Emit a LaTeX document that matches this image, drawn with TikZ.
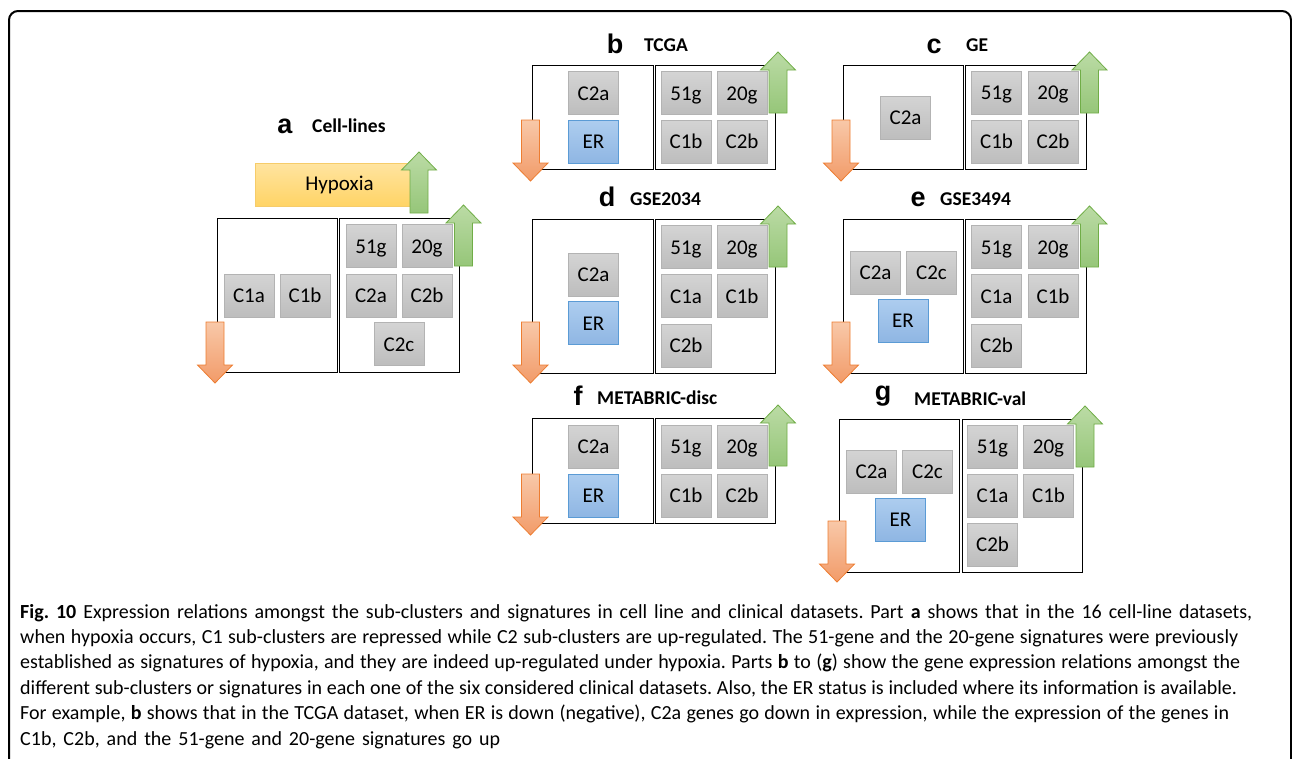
\documentclass[tikz,border=0pt]{standalone}
\usepackage{fontspec}
\setmainfont{Carlito}
\newfontfamily\arialfont{Liberation Sans}
\newfontfamily\capfont{Carlito}
\frenchspacing
\definecolor{gtop}{HTML}{D4D4D4}
\definecolor{gbot}{HTML}{BDBDBD}
\definecolor{gline}{HTML}{B3B3B3}
\definecolor{btop}{HTML}{ADCDEF}
\definecolor{bbot}{HTML}{8FB6E3}
\definecolor{bline}{HTML}{5B9BD5}
\definecolor{grtop}{HTML}{BBDBA5}
\definecolor{grbot}{HTML}{96C679}
\definecolor{grline}{HTML}{70AD47}
\definecolor{ortop}{HTML}{F8C8A8}
\definecolor{orbot}{HTML}{F29B69}
\definecolor{orline}{HTML}{ED7D31}
\definecolor{hytop}{HTML}{FFE4A0}
\definecolor{hybot}{HTML}{FFD466}
\definecolor{hyline}{HTML}{F6CC6A}
\tikzset{
  gbox/.style={draw=gline, line width=0.8pt, top color=gtop, bottom color=gbot,
    minimum width=50pt, minimum height=43pt, inner sep=0pt,
    font=\fontsize{21}{24}\selectfont, text height=14pt, text depth=0pt},
  erbox/.style={gbox, draw=bline, top color=btop, bottom color=bbot},
  panel/.style={draw=black, line width=1pt},
  grarrow/.style={draw=grline, line width=0.8pt, top color=grtop, bottom color=grbot},
  orarrow/.style={draw=orline, line width=0.8pt, top color=ortop, bottom color=orbot},
  letterlbl/.style={font=\arialfont\bfseries\fontsize{27}{30}\selectfont, anchor=base, inner sep=0pt},
  titlelbl/.style={font=\bfseries\fontsize{19.5}{22}\selectfont, anchor=base west, inner sep=0pt},
  capline/.style={anchor=base west, inner sep=0pt, font=\capfont\fontsize{20}{24}\selectfont},
}
\newcommand\greenuparrow[2]{%
  \begin{scope}[shift={(#1,#2)}]
    \path[grarrow] (-17.5,18) -- (0,0) -- (17.5,18) -- (9,18) -- (9,61) -- (-9,61) -- (-9,18) -- cycle;
  \end{scope}}
\newcommand\orangedownarrow[2]{%
  \begin{scope}[shift={(#1,#2)}]
    \path[orarrow] (-9,-61) -- (9,-61) -- (9,-18) -- (17.5,-18) -- (0,0) -- (-17.5,-18) -- (-9,-18) -- cycle;
  \end{scope}}
\begin{document}
\begin{tikzpicture}[x=1pt,y=-1pt]
\useasboundingbox (0,0) rectangle (1292,758);
\begin{scope}
\clip (0,0) rectangle (1292,758);
\draw[line width=2pt, rounded corners=9pt] (9,11) rectangle (1291,800);
\end{scope}

% ---------- panel a ----------
\node[letterlbl] (la) at (285,133) {a};
\node[titlelbl] (ta) at (312,132) {Cell-lines};
\node[draw=hyline, line width=0.8pt, top color=hytop, bottom color=hybot,
  minimum width=169pt, minimum height=43pt, inner sep=0pt,
  font=\fontsize{21}{24}\selectfont] (hyp) at (339.5,184.5) {Hypoxia};
\draw[panel] (217,218) rectangle (337,372);
\draw[panel] (339,218) rectangle (459,372);
\node[gbox] (a51) at (371,246) {51g};
\node[gbox] (a20) at (427,246) {20g};
\node[gbox] (aC2a) at (371,295.5) {C2a};
\node[gbox] (aC2b) at (427,295.5) {C2b};
\node[gbox] (aC2c) at (399,344) {C2c};
\node[gbox] (aC1a) at (249,295.5) {C1a};
\node[gbox] (aC1b) at (305,295.5) {C1b};
\greenuparrow{419}{152}
\greenuparrow{463.5}{205}
\orangedownarrow{215}{383}

% ---------- panel b ----------
\node[letterlbl] (lb) at (615,53) {b};
\node[titlelbl] (tb) at (644,51) {TCGA};
\draw[panel] (532,65) rectangle (653,169);
\draw[panel] (655,65) rectangle (775,169);
\node[gbox] (bC2a) at (593.5,93) {C2a};
\node[erbox] (bER) at (593.5,141.5) {ER};
\node[gbox] (b51) at (686,93) {51g};
\node[gbox] (b20) at (742,93) {20g};
\node[gbox] (bC1b) at (686,141.5) {C1b};
\node[gbox] (bC2b) at (742,141.5) {C2b};
\greenuparrow{778}{52}
\orangedownarrow{530.5}{181}

% ---------- panel c ----------
\node[letterlbl] (lc) at (934,53) {c};
\node[titlelbl] (tc) at (966,51) {GE};
\draw[panel] (843,65) rectangle (963,169);
\draw[panel] (965,65) rectangle (1086,169);
\node[gbox] (cC2a) at (905.5,117.5) {C2a};
\node[gbox] (c51) at (996.5,92.5) {51g};
\node[gbox] (c20) at (1053,92.5) {20g};
\node[gbox] (cC1b) at (996.5,141.5) {C1b};
\node[gbox] (cC2b) at (1053,141.5) {C2b};
\greenuparrow{1089.5}{52}
\orangedownarrow{841}{181}

% ---------- panel d ----------
\node[letterlbl] (ld) at (607,206) {d};
\node[titlelbl] (td) at (630,205) {GSE2034};
\draw[panel] (532,219) rectangle (653,373);
\draw[panel] (655,219) rectangle (775,373);
\node[gbox] (dC2a) at (593.5,274.5) {C2a};
\node[erbox] (dER) at (593.5,323) {ER};
\node[gbox] (d51) at (686,247) {51g};
\node[gbox] (d20) at (742,247) {20g};
\node[gbox] (dC1a) at (686,296) {C1a};
\node[gbox] (dC1b) at (742,296) {C1b};
\node[gbox] (dC2b) at (686,345.5) {C2b};
\greenuparrow{778}{206}
\orangedownarrow{530.5}{383}

% ---------- panel e ----------
\node[letterlbl] (le) at (918,206) {e};
\node[titlelbl] (te) at (940,205) {GSE3494};
\draw[panel] (843,219) rectangle (963,373);
\draw[panel] (965,219) rectangle (1086,373);
\node[gbox] (eC2a) at (875.5,272.5) {C2a};
\node[gbox] (eC2c) at (931.5,272.5) {C2c};
\node[erbox] (eER) at (903,320.5) {ER};
\node[gbox] (e51) at (996.5,247) {51g};
\node[gbox] (e20) at (1053,247) {20g};
\node[gbox] (eC1a) at (996.5,296) {C1a};
\node[gbox] (eC1b) at (1053,296) {C1b};
\node[gbox] (eC2b) at (996.5,345.5) {C2b};
\greenuparrow{1089.5}{206}
\orangedownarrow{841}{383}

% ---------- panel f ----------
\node[letterlbl] (lf) at (578,405) {f};
\node[titlelbl] (tf) at (597,404) {METABRIC-disc};
\draw[panel] (532,418) rectangle (653,523);
\draw[panel] (655,418) rectangle (775,523);
\node[gbox] (fC2a) at (593.5,446.5) {C2a};
\node[erbox] (fER) at (593.5,495.5) {ER};
\node[gbox] (f51) at (686,446.5) {51g};
\node[gbox] (f20) at (742,446.5) {20g};
\node[gbox] (fC1b) at (686,495.5) {C1b};
\node[gbox] (fC2b) at (742,495.5) {C2b};
\greenuparrow{778}{405}
\orangedownarrow{530.5}{535}

% ---------- panel g ----------
\node[letterlbl] (lg) at (883,400) {g};
\node[titlelbl] (tg) at (914,405) {METABRIC-val};
\draw[panel] (839,419) rectangle (959,572);
\draw[panel] (962,419) rectangle (1082,572);
\node[gbox] (gC2a) at (871.5,471.5) {C2a};
\node[gbox] (gC2c) at (927.5,471.5) {C2c};
\node[erbox] (gER) at (900.5,519.5) {ER};
\node[gbox] (g51) at (992.5,446.5) {51g};
\node[gbox] (g20) at (1048.5,446.5) {20g};
\node[gbox] (gC1a) at (992.5,495.5) {C1a};
\node[gbox] (gC1b) at (1048.5,495.5) {C1b};
\node[gbox] (gC2b) at (992.5,544.5) {C2b};
\greenuparrow{1085}{406}
\orangedownarrow{837}{582}

% ---------- caption ----------
\node[capline] (cap1) at (20,618) {\makebox[1232pt][s]{\textbf{Fig. 10} Expression relations amongst the sub-clusters and signatures in cell line and clinical datasets. Part \textbf{a} shows that in the 16 cell-line datasets,}};
\node[capline] (cap2) at (20,643.4) {\makebox[1218pt][s]{when hypoxia occurs, C1 sub-clusters are repressed while C2 sub-clusters are up-regulated. The 51-gene and the 20-gene signatures were previously}};
\node[capline] (cap3) at (20,668.8) {\makebox[1220pt][s]{established as signatures of hypoxia, and they are indeed up-regulated under hypoxia. Parts \textbf{b} to (\textbf{g}) show the gene expression relations amongst the}};
\node[capline] (cap4) at (20,694.2) {\makebox[1217pt][s]{different sub-clusters or signatures in each one of the six considered clinical datasets. Also, the ER status is included where its information is available.}};
\node[capline] (cap5) at (20,719.6) {\makebox[1209pt][s]{For example, \textbf{b} shows that in the TCGA dataset, when ER is down (negative), C2a genes go down in expression, while the expression of the genes in}};
\node[capline] (cap6) at (20,745) {\makebox[480pt][s]{C1b, C2b, and the 51-gene and 20-gene signatures go up}};
\end{tikzpicture}
\end{document}
